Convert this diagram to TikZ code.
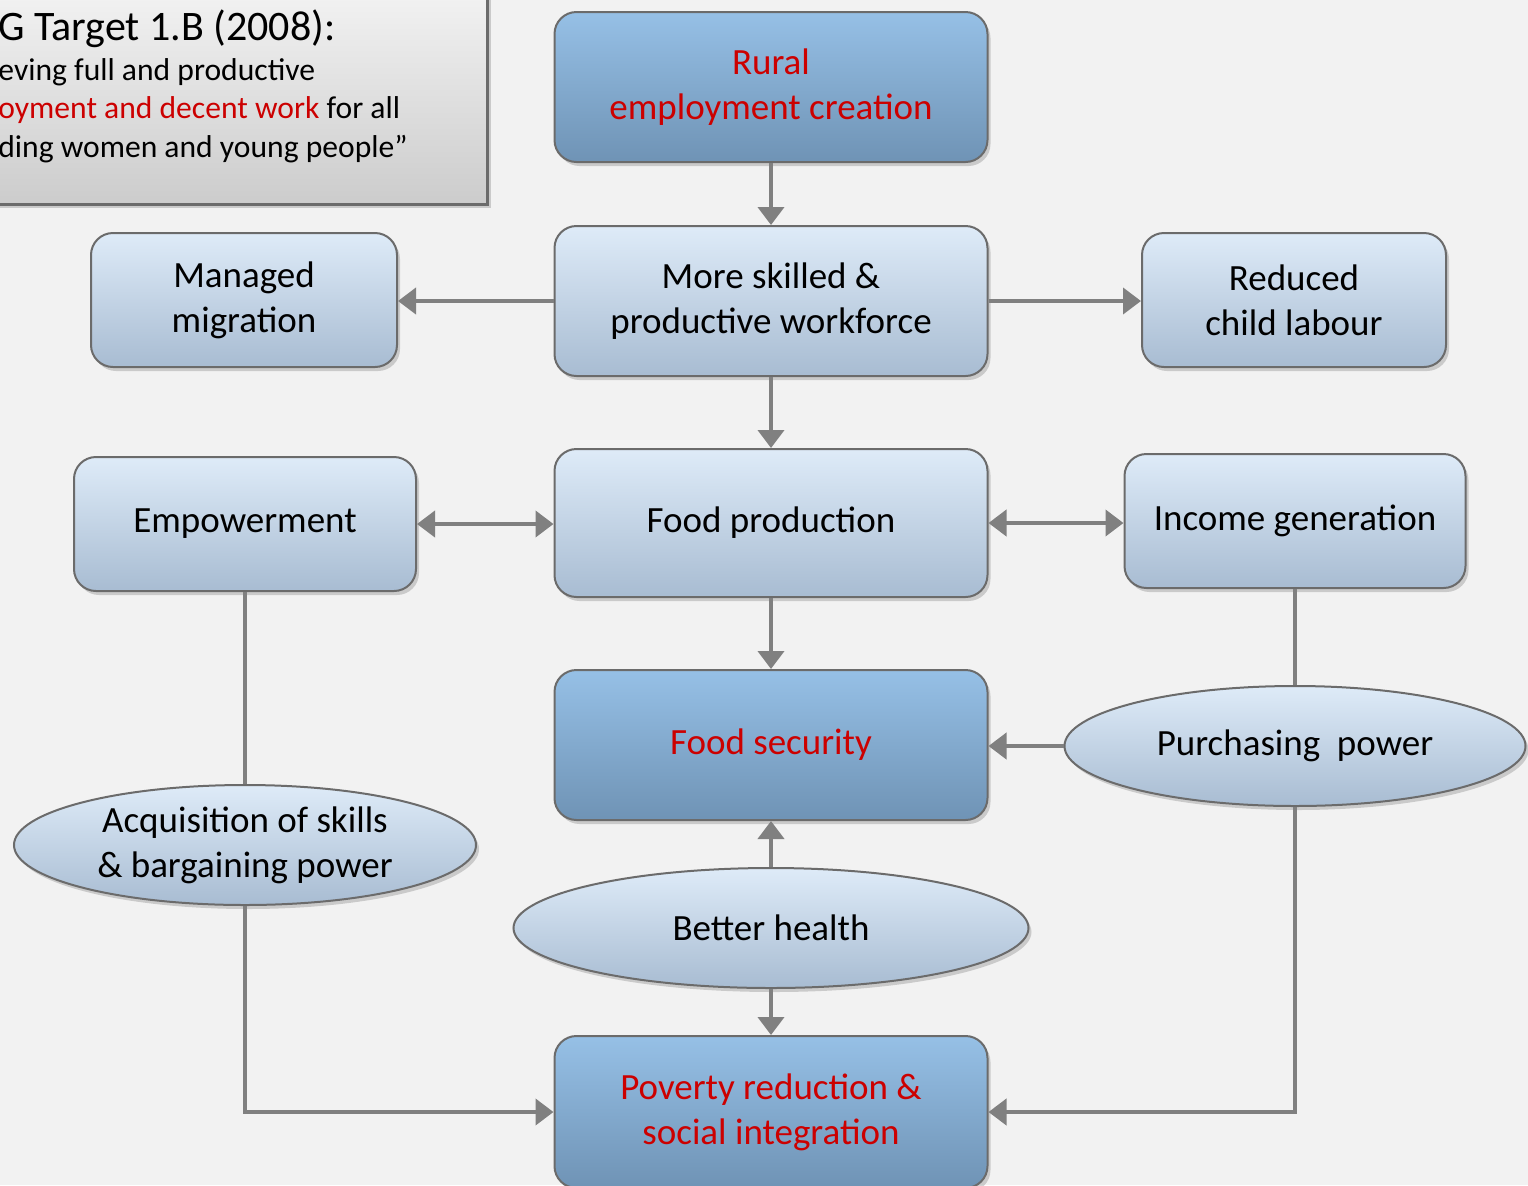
\documentclass[tikz,border=0pt]{standalone}
\usepackage{fontspec}
\setmainfont{Carlito}
\usetikzlibrary{shapes.geometric,arrows.meta,shadows}

\definecolor{bgcol}{HTML}{F2F2F2}
\definecolor{darktop}{HTML}{96C0E6}
\definecolor{darkbot}{HTML}{6F93B5}
\definecolor{lighttop}{HTML}{DEEBF8}
\definecolor{lightbot}{HTML}{A8BCD2}
\definecolor{linkcol}{HTML}{808080}
\definecolor{rimcol}{HTML}{6B6B6B}
\definecolor{redtxt}{HTML}{CC0000}

\tikzset{
  box/.style={rectangle, rounded corners=11pt, draw=rimcol, line width=1pt,
    align=center, inner sep=0pt, font=\fontsize{18.5}{22.5}\selectfont,
    drop shadow={opacity=0.35, shadow xshift=1.5pt, shadow yshift=-2pt}},
  darkbox/.style={box, top color=darktop, bottom color=darkbot, text=redtxt,
    minimum width=216.5pt, minimum height=75pt},
  lightbox/.style={box, top color=lighttop, bottom color=lightbot},
  oval/.style={ellipse, draw=rimcol, line width=1pt, align=center, inner sep=0pt,
    top color=lighttop, bottom color=lightbot, font=\fontsize{18.5}{22.5}\selectfont,
    drop shadow={opacity=0.35, shadow xshift=1.5pt, shadow yshift=-2pt}},
  note/.style={draw=rimcol, line width=1.5pt, top color=white, bottom color=black!20,
    drop shadow={opacity=0.35, shadow xshift=2pt, shadow yshift=-2pt}},
  wire/.style={draw=linkcol, line width=2pt},
  link/.style={wire, -{Triangle[width=13pt,length=9pt]}},
  twoway/.style={wire, {Triangle[width=13pt,length=9pt]}-{Triangle[width=13pt,length=9pt]}},
}

\begin{document}
\begin{tikzpicture}[x=0.5pt,y=-0.5pt]
  % canvas
  \useasboundingbox (0,0) rectangle (1528,1185);
  \clip (0,0) rectangle (1528,1185);
  \fill[bgcol] (0,0) rectangle (1528,1185);

  % target note, cut off at the left
  \draw[note] (-80,-80) rectangle (487,204);
  \node[anchor=base west, inner sep=0pt, font=\fontsize{21}{24}\selectfont] (mdg) at (-2,40) {G Target 1.B (2008):};
  \node[anchor=base west, inner sep=0pt, font=\fontsize{15.8}{19}\selectfont] (quote1) at (-2,80) {eving full and productive};
  \node[anchor=base west, inner sep=0pt, font=\fontsize{15.8}{19}\selectfont] (quote2) at (-2,118) {\textcolor{redtxt}{oyment and decent work} for all};
  \node[anchor=base west, inner sep=0pt, font=\fontsize{15.8}{19}\selectfont] (quote3) at (-2,157) {ding women and young people”};

  % main column
  \node[darkbox] (rural) at (771,87) {Rural\\employment creation};
  \node[lightbox, minimum width=216.5pt, minimum height=75pt] (skilled) at (771,301) {More skilled \&\\productive workforce};
  \node[lightbox, minimum width=216.5pt, minimum height=74pt] (foodprod) at (771,523) {Food production};
  \node[darkbox] (foodsec) at (771,745) {Food security};
  \node[oval, minimum width=257.5pt, minimum height=60pt] (health) at (771,928) {Better health};
  \node[darkbox, minimum height=76pt] (poverty) at (771,1112) {Poverty reduction \&\\social integration};

  % left column
  \node[lightbox, minimum width=153pt, minimum height=67pt] (migration) at (244,300) {Managed\\migration};
  \node[lightbox, minimum width=171pt, minimum height=67pt] (empower) at (245,524) {Empowerment};
  \node[oval, minimum width=231pt, minimum height=60pt] (skills) at (245,845) {Acquisition of skills\\\& bargaining power};

  % right column
  \node[lightbox, minimum width=152pt, minimum height=67pt] (childlab) at (1294,300) {Reduced\\child labour};
  \node[lightbox, minimum width=170.5pt, minimum height=67pt] (income) at (1295,521) {Income generation};
  \node[oval, minimum width=230.5pt, minimum height=60pt] (purchase) at (1295,746) {Purchasing~~power};

  % connectors
  \draw[link] (rural) -- (skilled);
  \draw[link] (skilled) -- (migration.east |- skilled.west);
  \draw[link] (skilled) -- (childlab.west |- skilled.east);
  \draw[link] (skilled) -- (foodprod);
  \draw[twoway] (empower.east) -- (empower.east -| foodprod.west);
  \draw[twoway] (foodprod.east) -- (foodprod.east -| income.west);
  \draw[link] (foodprod) -- (foodsec);
  \draw[link] (purchase.west) -- (purchase.west -| foodsec.east);
  \draw[link] (health) -- (foodsec);
  \draw[link] (health) -- (poverty);
  \draw[wire] (income) -- (purchase);
  \draw[wire] (empower) -- (skills);
  \draw[link] (skills.south) |- (poverty.west);
  \draw[link] (purchase.south) |- (poverty.east);
\end{tikzpicture}
\end{document}
